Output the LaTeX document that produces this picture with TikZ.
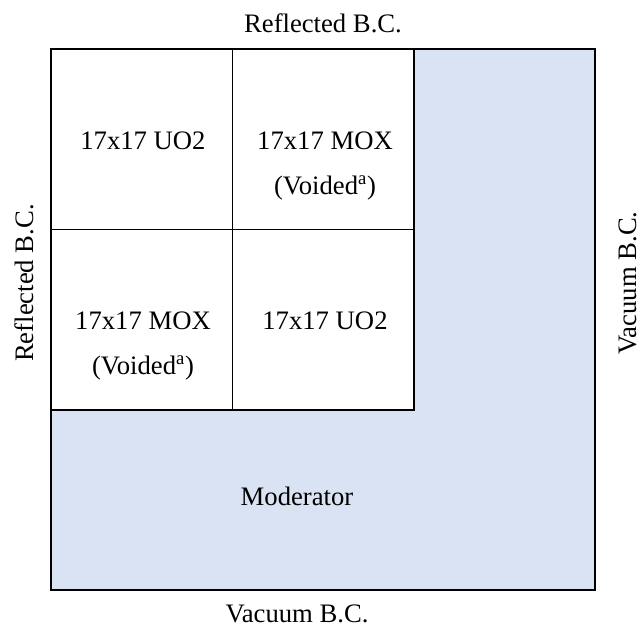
\documentclass[tikz,border=0pt]{standalone}
\usepackage{fontspec}
\setmainfont{Liberation Serif}
\usetikzlibrary{positioning}
\definecolor{ModBlue}{RGB}{218, 227, 243}

\begin{document}
\begin{tikzpicture}[
        x=0.75pt, y=-0.75pt,
        every node/.style = {font=\fontsize{20}{34}\selectfont, inner sep=0pt, outer sep=0pt},
        region/.style = {draw, line width=1.1pt, fill=ModBlue, minimum width=408pt, minimum height=405.75pt},
        cell/.style = {fill=white, minimum width=136.1pt, minimum height=135.4pt},
        celltext/.style = {align=center, anchor=north},
        bclabel/.style = {anchor=base}
    ]
        \useasboundingbox (0,0) rectangle (643,628);

        % Moderator region
        \node (modbox) [region] at (323,319.5) {};

        % Fuel assemblies
        \node (uo2top) [cell, anchor=north west] at (modbox.north west) {};
        \node (moxtop) [cell, right=0pt of uo2top] {};
        \node (moxbot) [cell, below=0pt of uo2top] {};
        \node (uo2bot) [cell, right=0pt of moxbot] {};
        \foreach \c in {uo2top, moxtop, moxbot, uo2bot}
            \draw [line width=1.1pt] (\c.north west) rectangle (\c.south east);

        \node (uo2toptxt) [celltext] at (143,132) {17x17 UO2};
        \node (moxtoptxt) [celltext] at (325,132) {17x17 MOX\\(Voided\textsuperscript{a})};
        \node (moxbottxt) [celltext] at (143,312) {17x17 MOX\\(Voided\textsuperscript{a})};
        \node (uo2bottxt) [celltext] at (325,312) {17x17 UO2};
        \node (modtxt) [bclabel] at (297,505) {Moderator};

        % Boundary conditions
        \node (bctop) [bclabel] at (323,32) {Reflected B.C.};
        \node (bcbottom) [bclabel] at (297,622) {Vacuum B.C.};
        \node (bcleft) [rotate=90] at (24,283) {Reflected B.C.};
        \node (bcright) [rotate=90] at (628,283) {Vacuum B.C.};
    \end{tikzpicture}
\end{document}
